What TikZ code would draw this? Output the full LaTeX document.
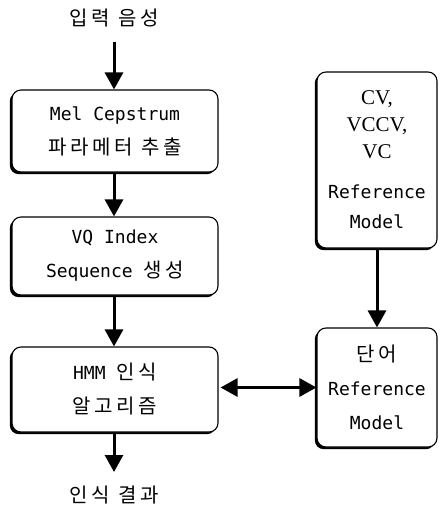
\documentclass[tikz,border=0pt]{standalone}
\usepackage{fontspec}
\setmainfont{DejaVu Sans Mono}
\newfontfamily\ko[LetterSpace=18]{Noto Sans CJK KR}
\newfontfamily\tm{Liberation Serif}
\usetikzlibrary{arrows.meta,shadows}
\newcommand\K[1]{{\ko\fontsize{20}{34}\selectfont #1}}
\tikzset{
 box/.style={draw, line width=1.1pt, rounded corners=9pt, fill=white, align=center, inner sep=0pt,
   general shadow={fill=black, shadow xshift=-2.2pt, shadow yshift=-2.2pt},
   font=\fontsize{18}{34}\selectfont},
 arr/.style={line width=3pt, -{Triangle[width=18pt,length=17pt]}},
 darr/.style={line width=3pt, {Triangle[width=18pt,length=17pt]}-{Triangle[width=18pt,length=17pt]}},
 lbl/.style={inner sep=0pt, font=\fontsize{18}{20}\selectfont}
}
\begin{document}
\begin{tikzpicture}[x=1pt,y=-1pt]
\useasboundingbox (0,0) rectangle (440,508);
\node[lbl] (in) at (114,18) {\K{입력 음성}};
\coordinate (inarr) at (114,42);
\node[box, minimum width=206pt, minimum height=82pt] (mel) at (115,131) {Mel Cepstrum\\\K{파라메터 추출}};
\node[box, minimum width=206pt, minimum height=78pt] (vq) at (115,256) {VQ Index\\Sequence \K{생성}};
\node[box, minimum width=206pt, minimum height=85pt] (hmm) at (115,389.5) {HMM \K{인식}\\\K{알고리즘}};
\coordinate (outarr) at (114,472);
\node[lbl] (out) at (114,495) {\K{인식 결과}};
\node[box, minimum width=120pt, minimum height=176pt, font=\fontsize{18}{30}\selectfont] (rt) at (377,160)
  {\tm\fontsize{21}{27}\selectfont CV,\\[-3pt]\tm\fontsize{21}{27}\selectfont VCCV,\\[-3pt]\tm\fontsize{21}{27}\selectfont VC\\[10pt]\normalfont\fontsize{18}{30}\selectfont Reference\\Model};
\node[box, minimum width=120pt, minimum height=119pt] (rb) at (377,387.5) {\K{단어}\\Reference\\Model};
\draw[arr] (inarr) -- (mel.north -| inarr);
\draw[arr] (mel.south -| inarr) -- (vq.north -| inarr);
\draw[arr] (vq.south -| inarr) -- (hmm.north -| inarr);
\draw[arr] (hmm.south -| inarr) -- (outarr);
\draw[arr] (rt.south) -- (rb.north);
\draw[darr, shorten <=2pt] (hmm.east |- rb.west) -- (rb.west);
\end{tikzpicture}
\end{document}
